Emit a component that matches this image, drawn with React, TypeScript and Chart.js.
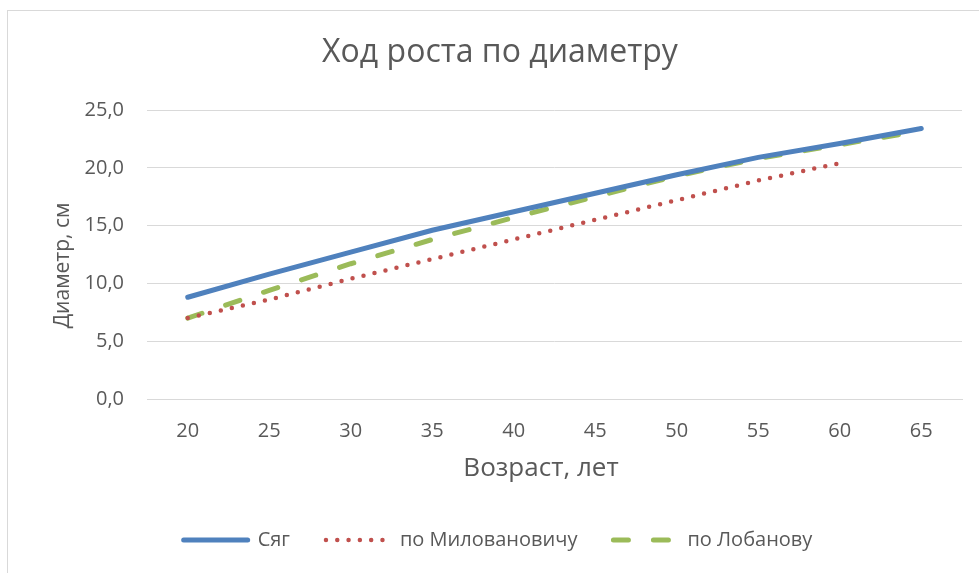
import React, { useEffect, useRef } from "react";
import { Chart, registerables } from "chart.js";

Chart.register(...registerables);

const ages = ["20", "25", "30", "35", "40", "45", "50", "55", "60", "65"];
const syag = [8.8, 10.8, 12.7, 14.6, 16.2, 17.8, 19.4, 20.9, 22.1, 23.4];
const milovanovich = [7.0, 8.6, 10.4, 12.1, 13.8, 15.5, 17.2, 18.9, 20.4, null];
const lobanov = [7.0, 9.4, 11.7, 13.8, 15.7, 17.5, 19.3, 20.8, 22.0, 23.2];

const titleText = "Ход роста по диаметру";
const xTitle = "Возраст, лет";
const yTitle = "Диаметр, см";
const seriesNames = ["Сяг", "по Миловановичу", "по Лобанову"];

const FONT = "'Open Sans', sans-serif";
const TEXT = "#595959";
const GRID = "#d9d9d9";

const shiftBoxes = {
  id: "shiftBoxes",
  afterLayout(chart: any) {
    if (chart.legend) {
      chart.legend.left += 34;
    }
    if (chart.titleBlock) {
      chart.titleBlock.left += 38;
    }
  },
};

export default function App() {
  const ref = useRef<HTMLCanvasElement>(null);
  useEffect(() => {
    if (!ref.current) return;
    const chart = new Chart(ref.current, {
      type: "line",
      data: {
        labels: ages,
        datasets: [
          {
            label: seriesNames[0],
            data: syag,
            borderColor: "#4f81bd",
            backgroundColor: "#4f81bd",
            borderWidth: 5,
            borderCapStyle: "round",
            pointRadius: 0,
            tension: 0,
          },
          {
            label: seriesNames[1],
            data: milovanovich,
            borderColor: "#c0504d",
            backgroundColor: "#c0504d",
            borderWidth: 4.5,
            borderDash: [0, 11.3],
            borderCapStyle: "round",
            pointRadius: 0,
            tension: 0,
          },
          {
            label: seriesNames[2],
            data: lobanov,
            borderColor: "#9bbb59",
            backgroundColor: "#9bbb59",
            borderWidth: 5,
            borderDash: [15, 25],
            borderCapStyle: "round",
            pointRadius: 0,
            tension: 0,
          },
        ],
      },
      plugins: [shiftBoxes],
      options: {
        animation: false,
        responsive: true,
        maintainAspectRatio: false,
        layout: { padding: { left: 0, right: 17, top: 0, bottom: 13 } },
        plugins: {
          title: {
            display: true,
            text: titleText,
            color: TEXT,
            font: { family: FONT, size: 32, weight: "normal" },
            padding: { top: 34, bottom: 37.6 },
          },
          legend: {
            position: "bottom",
            labels: {
              usePointStyle: true,
              pointStyle: "line",
              boxWidth: 64,
              pointStyleWidth: 64,
              padding: 36,
              color: TEXT,
              font: { family: FONT, size: 20 },
              generateLabels: (c: any) => {
                const items = (Chart as any).defaults.plugins.legend.labels.generateLabels(c);
                return items.map((it: any) => {
                  const ds = c.data.datasets[it.datasetIndex];
                  return {
                    ...it,
                    lineDash: ds.borderDash || [],
                    lineCap: "round",
                    lineWidth: ds.borderWidth,
                    strokeStyle: ds.borderColor,
                    fillStyle: ds.borderColor,
                    pointStyle: "line",
                  };
                });
              },
            },
          },
          tooltip: { enabled: false },
        },
        scales: {
          x: {
            offset: true,
            grid: { display: false, drawTicks: false },
            border: { display: true, color: GRID, width: 1 },
            ticks: {
              color: TEXT,
              padding: 20,
              font: { family: FONT, size: 20 },
              maxRotation: 0,
            },
            title: {
              display: true,
              text: xTitle + "    ",
              color: TEXT,
              font: { family: FONT, size: 26 },
              padding: { top: 0, bottom: 9.4 },
            },
            afterFit: (s: any) => {
              s.height = 95;
            },
          },
          y: {
            min: 0,
            max: 25,
            grid: { color: GRID, lineWidth: 1, drawTicks: false },
            border: { display: false },
            ticks: {
              stepSize: 5,
              color: TEXT,
              padding: 23,
              font: { family: FONT, size: 20 },
              callback: (v: any) => Number(v).toFixed(1).replace(".", ","),
            },
            title: {
              display: true,
              text: yTitle + "    ",
              color: TEXT,
              font: { family: FONT, size: 21 },
              padding: { top: 50, bottom: 0 },
            },
            afterFit: (s: any) => {
              s.width = 147;
            },
          },
        },
      },
    });
    return () => chart.destroy();
  }, []);

  return (
    <div
      style={{
        position: "absolute",
        left: 0,
        top: 0,
        width: 979,
        height: 573,
        overflow: "hidden",
        background: "#ffffff",
      }}
    >
      <div
        style={{
          position: "absolute",
          left: 7,
          top: 10,
          width: 1000,
          height: 700,
          border: "1px solid #d9d9d9",
        }}
      />
      <div style={{ position: "absolute", left: 0, top: 0, width: 979, height: 573 }}>
        <canvas ref={ref} />
      </div>
    </div>
  );
}
